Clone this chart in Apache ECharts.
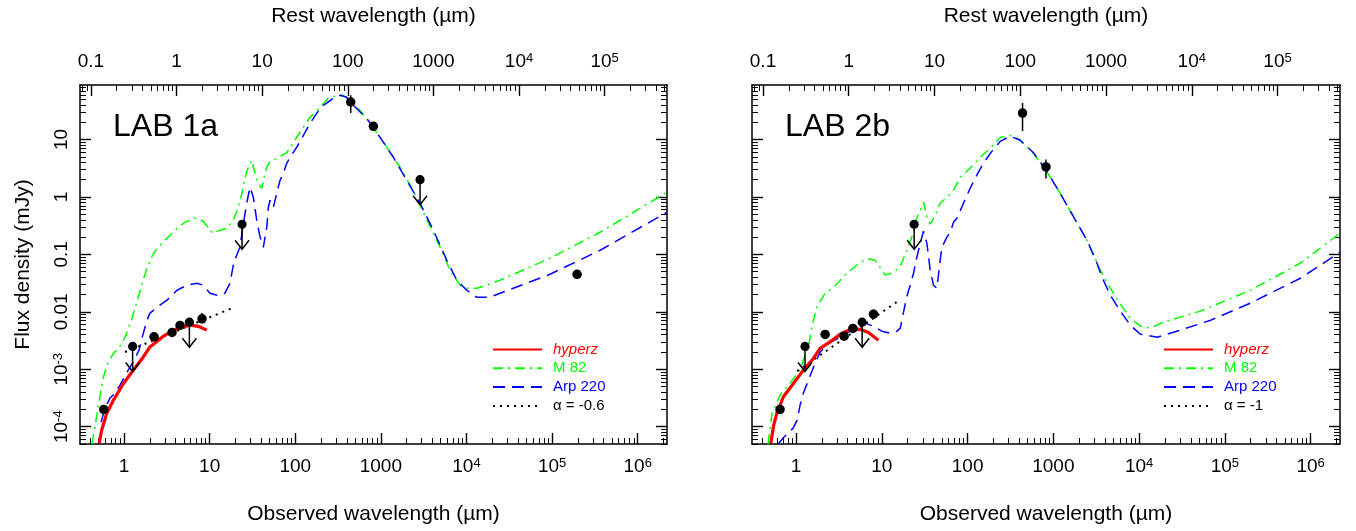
<!DOCTYPE html>
<html><head><meta charset="utf-8">
<script src="https://cdn.jsdelivr.net/npm/echarts@6/dist/echarts.min.js"></script>
<style>html,body{margin:0;padding:0;background:#fff}#c{width:1356px;height:531px}</style>
</head><body><div id="c"></div>
<script>
// ---------- axes ----------
const ONEPLUSZ = 4.11;
const obsTicks = [1, 10, 100, 1000, 1e4, 1e5, 1e6];
const restTicks = [0.1, 1, 10, 100, 1000, 1e4, 1e5];
const fluxTicks = [1e-4, 1e-3, 0.01, 0.1, 1, 10];
const obsRange = [0.306, 2.2e6];
const fluxRange = [5e-5, 89];
const panelLabels = ['LAB 1a', 'LAB 2b'];
const legendNames1 = ['hyperz', 'M 82', 'Arp 220', 'α = -0.6'];
const legendNames2 = ['hyperz', 'M 82', 'Arp 220', 'α = -1'];

// ---------- LAB 1a ----------
const lab1_m82 = [[0.423,5e-5],[0.471,1.30e-4],[0.525,3.55e-4],[0.584,7.9e-4],[0.650,1.33e-3],[0.744,1.83e-3],[0.898,2.52e-3],[1.055,3.92e-3],[1.240,7.75e-3],[1.458,0.0173],[1.667,0.0356],[1.857,0.0575],[2.125,0.093],[2.43,0.128],[3.18,0.191],[4.16,0.285],[5.16,0.363],[6.75,0.431],[8.37,0.378],[9.58,0.297],[10.87,0.234],[13.2,0.263],[15.96,0.285],[18.75,0.395],[20.9,0.564],[23.9,1.16],[25.9,2.20],[28.8,3.56],[31.0,4.35],[32.1,3.56],[33.9,2.58],[36.7,1.73],[40.6,1.42],[44.4,2.58],[46.9,3.42],[50.8,4.06],[61.3,4.71],[80.2,6.0],[94.2,8.6],[113.7,13.4],[149,24.4],[195,36.4],[242,52.1],[308,58.8],[362,58.8],[436,48.1],[571,32.2],[811,16.3],[1181,7.32],[1675,3.29],[2377,1.31],[3467,0.394],[4920,0.133],[6430,0.053],[8410,0.0291],[10160,0.0258],[13300,0.0258],[17400,0.0291],[24700,0.0356],[94800,0.0858],[364000,0.243],[2.2e6,1.21]];
const lab1_arp220 = [[0.539,1.20e-4],[0.600,2.11e-4],[0.686,3.15e-4],[0.764,3.69e-4],[0.898,5.30e-4],[1.084,8.9e-4],[1.274,1.33e-3],[1.497,2.15e-3],[1.68,4.25e-3],[1.857,7.16e-3],[2.01,9.5e-3],[2.63,0.0131],[3.18,0.0160],[4.16,0.0238],[5.44,0.0291],[7.12,0.0315],[8.37,0.0291],[10.1,0.0211],[12.2,0.0195],[15.1,0.0211],[17.3,0.0315],[18.9,0.0648],[20.7,0.0968],[22.6,0.133],[24.8,0.349],[27.1,0.777],[29.6,1.475],[32.4,0.988],[35.5,0.395],[38.8,0.200],[42.4,0.133],[46.5,0.297],[48.5,0.661],[50.8,0.876],[55.5,0.661],[60.8,1.16],[66.4,1.95],[72.6,2.58],[79.6,3.86],[86.9,4.91],[104,7.32],[124.5,11.8],[149,19.2],[178,28.6],[213,39.4],[279,52.1],[334,58.8],[400,54.3],[477,39.4],[684,23.4],[979,10.9],[1400,4.91],[2007,1.95],[2870,0.777],[4105,0.263],[5890,0.0792],[7710,0.0356],[10080,0.0238],[13200,0.0180],[18900,0.0180],[24700,0.0211],[94800,0.0452],[364000,0.118],[2.2e6,0.542]];
const lab1_hyperz = [[0.514,5.2e-5],[0.548,8.7e-5],[0.628,1.71e-4],[0.75,2.88e-4],[0.98,5.6e-4],[1.28,9.6e-4],[1.68,1.64e-3],[2.01,2.45e-3],[2.88,3.77e-3],[4.13,5.1e-3],[5.9,5.86e-3],[7.38,5.6e-3],[9.25,4.8e-3]];
const lab1_powerlaw = [[1.03,2.0e-3],[18.3,0.0116]];
const lab1_points = [[0.58,2.0e-4],[2.24,3.67e-3],[3.64,4.37e-3],[4.51,5.8e-3],[8.15,7.55e-3],[445,45],[818,17],[1.96e5,0.045]];
const lab1_errors = [[8.15,6.35e-3,9.5e-3],[445,28.9,58.8],[1.96e5,0.040,0.051]];
const lab1_limits = [[1.26,2.5e-3],[5.8,6.6e-3],[23.9,0.335],[2870,2.0]];

// ---------- LAB 2b ----------
const lab2_m82 = [[0.471,5e-5],[0.525,1.73e-4],[0.651,3.55e-4],[0.851,5.74e-4],[1.113,9.66e-4],[1.273,1.76e-3],[1.392,2.46e-3],[1.525,5.41e-3],[1.744,0.0121],[2.18,0.0211],[2.49,0.0238],[3.12,0.0328],[3.91,0.0471],[5.11,0.0648],[6.68,0.0848],[8.36,0.0792],[10.0,0.0531],[10.9,0.0435],[13.7,0.049],[16.4,0.0623],[19.6,0.118],[23.4,0.243],[25.8,0.444],[28.0,0.587],[30.6,0.809],[33.5,0.444],[36.6,0.335],[41.9,0.480],[47.9,0.777],[57.3,0.988],[68.5,1.31],[82.0,2.20],[107,3.16],[140,4.91],[184,7.03],[240,10.9],[329,11.8],[411,9.69],[588,5.69],[842,2.72],[1203,1.15],[1722,0.449],[2466,0.177],[3524,0.0531],[4613,0.0258],[6040,0.0136],[7900,7.76e-3],[10330,5.63e-3],[13520,5.2e-3],[19190,6.6e-3],[51800,0.0103],[198600,0.0238],[760000,0.0703],[2.2e6,0.234]];
const lab2_arp220 = [[0.617,5e-5],[0.705,6.34e-5],[0.923,9.46e-5],[1.027,1.30e-4],[1.113,2.38e-4],[1.217,3.85e-4],[1.392,6.47e-4],[1.666,1.28e-3],[1.905,1.99e-3],[2.49,2.96e-3],[3.12,3.48e-3],[3.91,4.25e-3],[5.11,5.41e-3],[6.38,6.35e-3],[7.91,5.64e-3],[10.0,4.61e-3],[12.5,4.25e-3],[15.0,4.61e-3],[16.4,5.2e-3],[17.9,9.86e-3],[19.6,0.0187],[21.4,0.0291],[23.4,0.0471],[25.6,0.0892],[28.0,0.156],[30.6,0.253],[33.5,0.156],[36.6,0.0531],[40.0,0.0291],[43.8,0.0258],[47.9,0.0792],[50.1,0.133],[57.3,0.200],[62.7,0.243],[68.5,0.363],[75.0,0.426],[89.5,0.777],[107,1.42],[128,2.39],[153,3.86],[184,5.75],[240,9.31],[314,11.4],[411,9.69],[588,5.87],[842,2.80],[1203,1.15],[1722,0.449],[2466,0.177],[3228,0.0702],[3690,0.0401],[4613,0.0195],[6040,0.0103],[7900,5.86e-3],[10330,4.08e-3],[16310,3.62e-3],[30270,4.8e-3],[68480,7.16e-3],[198600,0.0142],[760000,0.0385],[2.2e6,0.109]];
const lab2_hyperz = [[0.507,5.1e-5],[0.543,1.0e-4],[0.595,1.71e-4],[0.711,3.32e-4],[0.930,5.67e-4],[1.217,9.66e-4],[1.592,1.54e-3],[1.905,2.31e-3],[2.49,3.0e-3],[3.26,4.08e-3],[4.27,4.93e-3],[5.58,4.99e-3],[6.98,4.37e-3],[9.12,3.21e-3]];
const lab2_powerlaw = [[1.03,9.3e-4],[16.4,0.0164]];
const lab2_points = [[0.65,2.0e-4],[2.18,4.04e-3],[3.63,3.77e-3],[4.59,5.14e-3],[7.98,9.1e-3],[437,28.9],[820,3.33]];
const lab2_errors = [[7.98,7.4e-3,0.011],[437,14.1,43.2],[820,2.09,4.47]];
const lab2_limits = [[1.27,2.5e-3],[5.89,6.6e-3],[23.8,0.335]];

// ---------- rendering ----------
const FONT = '"Liberation Sans", Arial, Helvetica, sans-serif';
const GRIDS = [{left: 80, top: 85, width: 587, height: 359}, {left: 752, top: 85, width: 588, height: 359}];

function minorTicks() {
  const out = [];
  for (let e = -6; e <= 7; e++) for (let k = 2; k <= 9; k++) out.push(k * Math.pow(10, e));
  return out;
}
const MINORS = minorTicks();

const RICH = {
  b: {fontSize: 19, fontFamily: FONT, color: '#000'},
  s: {fontSize: 13, fontFamily: FONT, color: '#000', verticalAlign: 'top'}
};
function fmt(v) {
  const e = Math.round(Math.log10(v));
  if (e >= 4 || e <= -3) return '{b|10}{s|' + e + '}';
  if (e < 0) return '{b|' + v.toFixed(-e) + '}';
  return '{b|' + Math.round(v) + '}';
}

function axis(o) {
  return {
    type: 'log', logBase: 10, gridIndex: o.g, position: o.pos,
    min: o.min, max: o.max, silent: true,
    splitLine: {show: false}, minorTick: {show: false}, minorSplitLine: {show: false},
    axisLine: {show: o.major, onZero: false, lineStyle: {color: '#000', width: 1.5}},
    axisTick: {show: true, inside: true, length: o.major ? 11 : 6, customValues: o.ticks,
      lineStyle: {color: '#000', width: o.major ? 1.4 : 1}},
    axisLabel: {show: !!o.labels, customValues: o.labels || o.ticks, formatter: fmt, rich: RICH,
      margin: o.margin || 10, rotate: o.rotate || 0, hideOverlap: false},
    axisPointer: {show: false},
    name: o.name || '', nameLocation: 'middle', nameGap: o.nameGap || 0,
    nameTextStyle: {fontSize: 21, fontFamily: FONT, color: '#000'}
  };
}

const xAxes = [], yAxes = [];
GRIDS.forEach((gr, g) => {
  const rmin = obsRange[0] / ONEPLUSZ, rmax = obsRange[1] / ONEPLUSZ;
  xAxes.push(axis({g, pos: 'bottom', min: obsRange[0], max: obsRange[1], major: true, ticks: obsTicks, labels: obsTicks, margin: 13, name: 'Observed wavelength (µm)', nameGap: 60}));
  xAxes.push(axis({g, pos: 'bottom', min: obsRange[0], max: obsRange[1], major: false, ticks: MINORS}));
  xAxes.push(axis({g, pos: 'top', min: rmin, max: rmax, major: true, ticks: restTicks, labels: restTicks, margin: 14, name: 'Rest wavelength (µm)', nameGap: 58}));
  xAxes.push(axis({g, pos: 'top', min: rmin, max: rmax, major: false, ticks: MINORS}));
  yAxes.push(axis({g, pos: 'left', min: fluxRange[0], max: fluxRange[1], major: true, ticks: fluxTicks, labels: g === 0 ? fluxTicks : null, margin: 9, rotate: 90, name: g === 0 ? 'Flux density (mJy)' : '', nameGap: 46}));
  yAxes.push(axis({g, pos: 'left', min: fluxRange[0], max: fluxRange[1], major: false, ticks: MINORS}));
  yAxes.push(axis({g, pos: 'right', min: fluxRange[0], max: fluxRange[1], major: true, ticks: fluxTicks}));
  yAxes.push(axis({g, pos: 'right', min: fluxRange[0], max: fluxRange[1], major: false, ticks: MINORS}));
});

function limitItem(params, api) {
  const p = api.coord([api.value(0), api.value(1)]);
  const L = 25, aw = 7, ah = 9;
  return {type: 'group', children: [
    {type: 'line', shape: {x1: p[0], y1: p[1], x2: p[0], y2: p[1] + L}, style: {stroke: '#000', lineWidth: 1.5}},
    {type: 'polyline', shape: {points: [[p[0] - aw, p[1] + L - ah], [p[0], p[1] + L], [p[0] + aw, p[1] + L - ah]]}, style: {stroke: '#000', fill: null, lineWidth: 1.5}},
    {type: 'circle', shape: {cx: p[0], cy: p[1], r: 4.6}, style: {fill: '#000'}}
  ]};
}
function errItem(params, api) {
  const a = api.coord([api.value(0), api.value(1)]);
  const b = api.coord([api.value(0), api.value(2)]);
  return {type: 'line', shape: {x1: a[0], y1: a[1], x2: b[0], y2: b[1]}, style: {stroke: '#000', lineWidth: 1.5}};
}

function panelSeries(g, m82, arp, hz, pl, plName, pts, errs, lims) {
  const ax = {xAxisIndex: 4 * g, yAxisIndex: 4 * g};
  const line = (name, data, color, width, type, z) => Object.assign({
    type: 'line', name, data, symbol: 'none', showSymbol: false, silent: true, animation: false, z,
    lineStyle: {color, width, type}, itemStyle: {color}
  }, ax);
  return [
    line('M 82', m82, '#00ff00', 1.5, [10, 5, 2, 5], 2),
    line('Arp 220', arp, '#0000ff', 1.5, [12, 7], 3),
    line(plName, pl, '#000000', 2, [2, 5], 4),
    line('hyperz', hz, '#ff0000', 3.2, 'solid', 5),
    Object.assign({type: 'custom', data: errs, renderItem: errItem, silent: true, animation: false, z: 6}, ax),
    Object.assign({type: 'scatter', data: pts, symbol: 'circle', symbolSize: 9.5, itemStyle: {color: '#000', opacity: 1}, silent: true, animation: false, z: 7}, ax),
    Object.assign({type: 'custom', data: lims, renderItem: limitItem, silent: true, animation: false, z: 7}, ax)
  ];
}

const series = [].concat(
  panelSeries(0, lab1_m82, lab1_arp220, lab1_hyperz, lab1_powerlaw, legendNames1[3], lab1_points, lab1_errors, lab1_limits),
  panelSeries(1, lab2_m82, lab2_arp220, lab2_hyperz, lab2_powerlaw, legendNames2[3], lab2_points, lab2_errors, lab2_limits)
);

const legendColors = ['#ff0000', '#00ff00', '#0000ff', '#000000'];
function legend(names, left) {
  return {
    orient: 'vertical', left, top: 342, padding: 0, itemWidth: 49, itemHeight: 14, itemGap: 3.8, selectedMode: false,
    itemStyle: {opacity: 0},
    textStyle: {fontSize: 15, fontFamily: FONT, padding: [0, 0, 0, 6]},
    data: names.map((n, i) => ({name: n, textStyle: {color: legendColors[i], fontStyle: i === 0 ? 'italic' : 'normal'}}))
  };
}

const chart = echarts.init(document.getElementById('c'), null, {renderer: 'canvas'});
chart.setOption({
  animation: false,
  backgroundColor: '#fff',
  grid: GRIDS.map(g => Object.assign({containLabel: false}, g)),
  xAxis: xAxes, yAxis: yAxes,
  legend: [legend(legendNames1, 492), legend(legendNames2, 1163)],
  graphic: panelLabels.map((t, i) => ({type: 'text', left: i === 0 ? 113 : 785, top: 111,
    style: {text: t, fontSize: 32, fontFamily: FONT, fill: '#000'}})),
  series
});
</script></body></html>
